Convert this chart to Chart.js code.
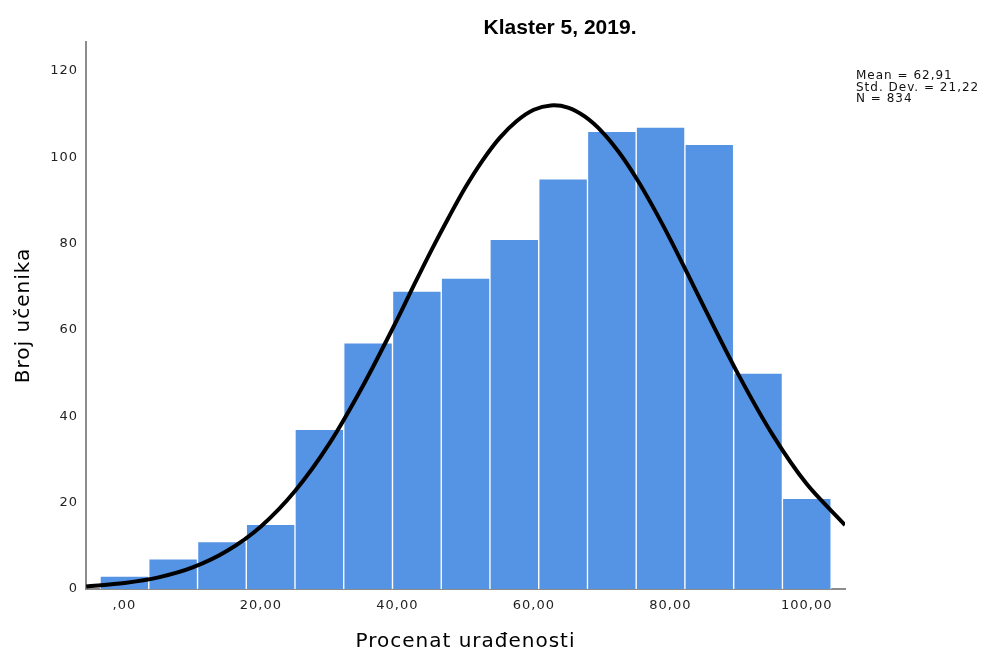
<!DOCTYPE html>
<html>
<head>
<meta charset="utf-8">
<script src="https://cdn.jsdelivr.net/npm/chart.js@4/dist/chart.umd.min.js"></script>
<style>
    html, body { margin: 0; padding: 0; background: #fff; }
    #wrap { width: 995px; height: 652px; }
</style>
</head>
<body>
<div id="wrap"><canvas id="chartHist"></canvas></div>
<script>
// histogram bins (centre of each bin, count)
var binCenters = [0, 7.14, 14.29, 21.43, 28.57, 35.71, 42.86, 50, 57.14, 64.29, 71.43, 78.57, 85.71, 92.86, 100];
var binCounts = [3, 7, 11, 15, 37, 57, 69, 72, 81, 95, 106, 107, 103, 50, 21];

// normal curve
var curveX = [-5.6, 0, 5, 10, 15, 20, 25, 30, 35, 40, 42.5, 45, 47.5, 50, 52.5, 55, 57.5, 60, 62.5, 65, 67.5, 70, 72.5, 75, 77.5, 80, 82.5, 85, 90, 95, 100, 105.6];
var curveY = [0.6, 1.4, 2.7, 5.0, 8.8, 14.5, 22.7, 33.6, 47.2, 62.5, 70.6, 78.5, 86.0, 93.1, 99.3, 104.5, 108.4, 111.0, 112.0, 111.5, 109.4, 105.9, 101.1, 95.2, 88.4, 81.0, 73.1, 65.1, 49.6, 35.7, 24.3, 14.8];

var xTicks = [0, 20, 40, 60, 80, 100];
var yTicks = [0, 20, 40, 60, 80, 100, 120];

var titulo = 'Klaster 5, 2019.';
var estatisticas = ['Mean = 62,91', 'Std. Dev. = 21,22', 'N = 834'];

var ctxHist = document.getElementById('chartHist');

var barras = [];
for (let i = 0; i < binCenters.length; i++) {
    barras.push({ x: binCenters[i], y: binCounts[i] });
}
var curva = [];
for (let i = 0; i < curveX.length; i++) {
    curva.push({ x: curveX[i], y: curveY[i] });
}

// SPSS spaces its letters a bit wider
var espacamento = {
    id: 'espacamento',
    beforeDraw(chart) {
        chart.ctx.letterSpacing = '1px';
    }
};

// title + stats box, drawn like SPSS does it
var textosExtras = {
    id: 'textosExtras',
    afterDraw(chart) {
        var c = chart.ctx;
        c.save();
        c.fillStyle = '#000';
        c.letterSpacing = '0px';
        c.font = 'bold 21px "Liberation Sans", Arial, sans-serif';
        c.textAlign = 'center';
        c.textBaseline = 'alphabetic';
        c.fillText(titulo, 560, 34);

        c.letterSpacing = '1px';
        c.font = '12px "DejaVu Sans", sans-serif';
        c.fillStyle = '#111';
        c.textAlign = 'left';
        c.textBaseline = 'top';
        for (let i = 0; i < estatisticas.length; i++) {
            c.fillText(estatisticas[i], 856, 70 + i * 11.5);
        }
        c.restore();
    }
};

var grafico = new Chart(ctxHist, {
    data: {
        datasets: [
            {
                type: 'line',
                data: curva,
                borderColor: '#000',
                borderWidth: 4,
                pointRadius: 0,
                tension: 0.3,
                fill: false,
                order: 0
            },
            {
                type: 'bar',
                data: barras,
                backgroundColor: '#5594e4',
                borderColor: '#ffffff',
                borderWidth: 1,
                borderSkipped: 'bottom',
                barPercentage: 1,
                categoryPercentage: 1,
                order: 1
            }
        ]
    },
    plugins: [espacamento, textosExtras],
    options: {
        responsive: true,
        maintainAspectRatio: false,
        animation: false,
        layout: {
            padding: { left: 0, right: 150, top: 42, bottom: 0 }
        },
        plugins: {
            legend: { display: false },
            tooltip: { enabled: false }
        },
        scales: {
            x: {
                type: 'linear',
                offset: false,
                min: -5.63,
                max: 105.6,
                afterBuildTicks: function (scale) {
                    scale.ticks = xTicks.map(function (v) { return { value: v }; });
                },
                afterFit: function (scale) { scale.height = 63; },
                grid: { display: false, drawTicks: false, offset: false },
                border: { display: true, color: '#8c8c8c', width: 2 },
                ticks: {
                    color: '#222',
                    padding: 9,
                    maxRotation: 0,
                    font: { family: 'DejaVu Sans', size: 13 },
                    callback: function (v) { return v === 0 ? ',00' : v + ',00'; }
                },
                title: {
                    display: true,
                    text: 'Procenat urađenosti',
                    color: '#000',
                    font: { family: 'DejaVu Sans', size: 20, lineHeight: 1 },
                    padding: { top: 0, bottom: 0 }
                }
            },
            y: {
                min: 0,
                max: 126.7,
                afterBuildTicks: function (scale) {
                    scale.ticks = yTicks.map(function (v) { return { value: v }; });
                },
                afterFit: function (scale) { scale.width = 86; },
                grid: { display: false, drawTicks: false },
                border: { display: true, color: '#8c8c8c', width: 2 },
                ticks: {
                    color: '#222',
                    padding: 8,
                    font: { family: 'DejaVu Sans', size: 13 }
                },
                title: {
                    display: true,
                    text: 'Broj učenika',
                    color: '#000',
                    font: { family: 'DejaVu Sans', size: 20, lineHeight: 1 },
                    padding: { top: 14, bottom: 0 }
                }
            }
        }
    }
});
</script>
</body>
</html>
